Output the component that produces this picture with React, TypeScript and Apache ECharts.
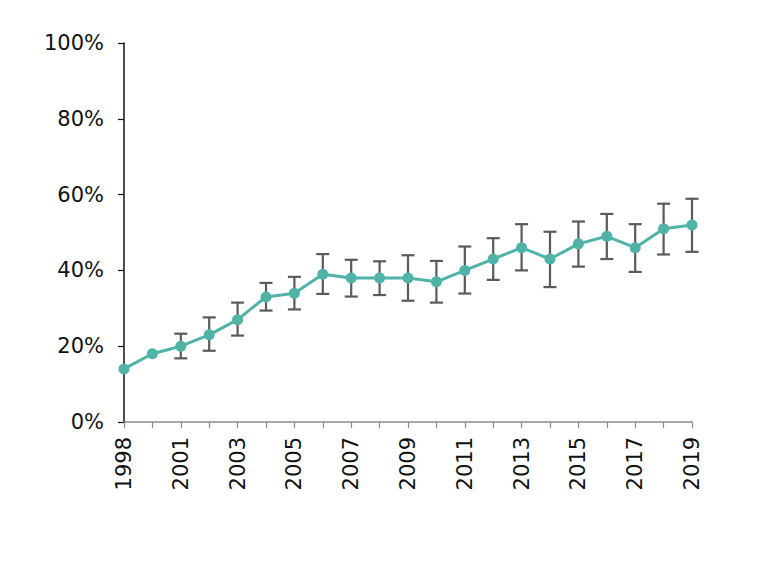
import React, { useEffect, useRef } from "react";
import * as echarts from "echarts";

const years = ["1998", "2000", "2001", "2002", "2003", "2004", "2005", "2006", "2007", "2008", "2009", "2010", "2011", "2012", "2013", "2014", "2015", "2016", "2017", "2018", "2019"];
const values = [14, 18, 20, 23, 27, 33, 34, 39, 38, 38, 38, 37, 40, 43, 46, 43, 47, 49, 46, 51, 52];
const lows = [null, null, 16.8, 18.8, 22.8, 29.4, 29.7, 33.8, 33.1, 33.5, 32, 31.5, 33.9, 37.5, 40, 35.6, 41, 43, 39.6, 44.2, 44.9];
const highs = [null, null, 23.3, 27.6, 31.5, 36.7, 38.3, 44.3, 42.8, 42.4, 44, 42.5, 46.3, 48.5, 52.2, 50.2, 52.9, 54.9, 52.2, 57.6, 58.9];

const FONT = "'DejaVu Sans', Verdana, sans-serif";

export default function App() {
  const ref = useRef<HTMLDivElement>(null);
  useEffect(() => {
    if (!ref.current) return;
    const chart = echarts.init(ref.current, null, { renderer: "svg" });
    const errData: any[] = [];
    years.forEach((_, i) => {
      if (lows[i] != null && highs[i] != null) errData.push([i, lows[i], highs[i]]);
    });
    chart.setOption({
      animation: false,
      backgroundColor: "#ffffff",
      grid: { left: 124, right: 68, top: 43, bottom: 147, containLabel: false },
      xAxis: {
        type: "category",
        data: years,
        boundaryGap: false,
        axisLine: { lineStyle: { color: "#8a8a8a", width: 1.5 } },
        axisTick: { show: true, length: 6, interval: 0, lineStyle: { color: "#8a8a8a", width: 1.2 } },
        axisLabel: {
          interval: 1,
          rotate: 90,
          margin: 15,
          color: "#111",
          fontSize: 21,
          fontFamily: FONT,
        },
        splitLine: { show: false },
      },
      yAxis: {
        type: "value",
        min: 0,
        max: 100,
        interval: 20,
        axisLine: { show: true, lineStyle: { color: "#111", width: 1.5 } },
        axisTick: { show: true, length: 6, lineStyle: { color: "#111", width: 1.2 } },
        axisLabel: {
          formatter: "{value}%",
          margin: 20,
          color: "#111",
          fontSize: 21,
          fontFamily: FONT,
        },
        splitLine: { show: false },
      },
      series: [
        {
          type: "custom",
          z: 1,
          data: errData,
          renderItem: (params: any, api: any) => {
            const x = api.value(0);
            const lo = api.coord([x, api.value(1)]);
            const hi = api.coord([x, api.value(2)]);
            const hw = 6.5;
            const style = { stroke: "#5a5a5a", lineWidth: 2.2, fill: null };
            return {
              type: "group",
              children: [
                { type: "line", shape: { x1: lo[0], y1: lo[1], x2: hi[0], y2: hi[1] }, style },
                { type: "line", shape: { x1: hi[0] - hw, y1: hi[1], x2: hi[0] + hw, y2: hi[1] }, style },
                { type: "line", shape: { x1: lo[0] - hw, y1: lo[1], x2: lo[0] + hw, y2: lo[1] }, style },
              ],
            };
          },
        },
        {
          type: "line",
          z: 5,
          data: values,
          symbol: "circle",
          symbolSize: 11,
          lineStyle: { color: "#4fb3a8", width: 3 },
          itemStyle: { color: "#4fb3a8" },
        },
      ],
    });
    return () => chart.dispose();
  }, []);
  return (
    <div
      ref={ref}
      style={{ position: "fixed", left: 0, top: 0, width: 760, height: 569 }}
    />
  );
}
